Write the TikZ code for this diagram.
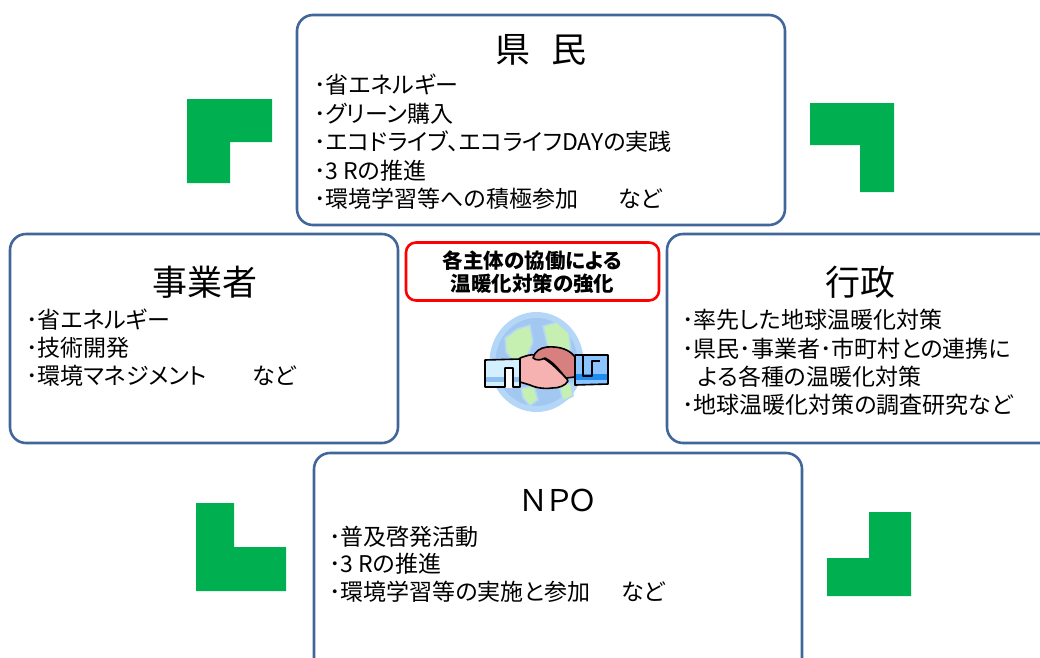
\documentclass[tikz,border=0pt]{standalone}
\usepackage{fontspec}
\setmainfont{Noto Sans CJK JP}[RawFeature=+palt]
\definecolor{panelblue}{HTML}{41679A}
\definecolor{cornergreen}{HTML}{00B050}
\definecolor{ocean}{HTML}{B4D6F7}
\definecolor{oceanin}{HTML}{A2C8F2}
\definecolor{land}{HTML}{C6EFB2}
\definecolor{cuffL}{HTML}{D2F0FF}
\definecolor{cuffLband}{HTML}{8FC0F0}
\definecolor{cuffR}{HTML}{8CC4FF}
\definecolor{cuffRband}{HTML}{1E8CF0}
\definecolor{handL}{HTML}{F6B2B0}
\definecolor{handR}{HTML}{D88080}
\tikzset{
  panel/.style={draw=panelblue, line width=2.6pt, rounded corners=16pt, fill=white, inner sep=0pt},
  corner/.style={fill=cornergreen, draw=none},
  title/.style={inner sep=0pt, font=\fontsize{35}{40}\selectfont},
  item/.style={inner sep=0pt, anchor=west, font=\fontsize{23}{28}\selectfont},
  keybox/.style={draw=red, line width=2.6pt, rounded corners=10pt, fill=white, inner sep=0pt},
  keytext/.style={inner sep=0pt, align=center, font=\fontsize{20.5}{23.5}\selectfont\bfseries},
  outl/.style={draw=black, line width=1.6pt, line join=round}
}
\begin{document}
\begin{tikzpicture}[x=1pt,y=-1pt]
\clip (0,0) rectangle (1040,657);
\fill[white] (0,0) rectangle (1040,657);

% green corner marks
\fill[corner] (187,99) -- (272,99) -- (272,142) -- (230,142) -- (230,183) -- (187,183) -- cycle;
\fill[corner] (810,103) -- (894,103) -- (894,192) -- (860,192) -- (860,145) -- (810,145) -- cycle;
\fill[corner] (196,503) -- (234,503) -- (234,547) -- (286,547) -- (286,591) -- (196,591) -- cycle;
\fill[corner] (869,512) -- (911,512) -- (911,596) -- (827,596) -- (827,558) -- (869,558) -- cycle;

% four panels
\node[panel, minimum width=488pt, minimum height=210pt] (kenmin) at (541,120) {};
\node[panel, minimum width=388pt, minimum height=209pt] (jigyo) at (204,338.5) {};
\node[panel, minimum width=400pt, minimum height=209pt] (gyosei) at (867,338.5) {};
\node[panel, minimum width=488pt, minimum height=230pt] (npo) at (558,568) {};

% citizens
\node[title] (kenmint) at (541,50) {県\hspace{22pt}民};
\node[item] (k1) at (314,85) {･省エネルギー};
\node[item] (k2) at (314,113.5) {･グリーン購入};
\node[item] (k3) at (314,142) {･エコドライブ、エコライフDAYの実践};
\node[item] (k4) at (314,170.5) {･3 Rの推進};
\node[item] (k5) at (314,199) {･環境学習等への積極参加\hspace{40pt}など};

% businesses
\node[title] (jigyot) at (205,282) {事業者};
\node[item] (j1) at (26,320) {･省エネルギー};
\node[item] (j2) at (26,348) {･技術開発};
\node[item] (j3) at (26,376) {･環境マネジメント\hspace{45pt}など};

% administration
\node[title] (gyoseit) at (860,282) {行政};
\node[item] (g1) at (682,320) {･率先した地球温暖化対策};
\node[item] (g2) at (682,348.5) {･県民･事業者･市町村との連携に};
\node[item] (g3) at (698,377) {よる各種の温暖化対策};
\node[item] (g4) at (682,405) {･地球温暖化対策の調査研究など};

% NPO
\node[title, font=\fontsize{30}{36}\selectfont] (npot) at (558,500) {ＮＰＯ};
\node[item] (n1) at (329,537) {･普及啓発活動};
\node[item] (n2) at (329,564) {･3 Rの推進};
\node[item] (n3) at (329,592) {･環境学習等の実施と参加\hspace{31pt}など};

% central message
\node[keybox, minimum width=253pt, minimum height=58pt] (key) at (532.5,271.5) {};
\node[keytext] (keyt) at (532.5,272) {各主体の協働による\\温暖化対策の強化};

% globe
\fill[ocean] (536.5,362) ellipse (47pt and 50pt);
\fill[oceanin] (536.5,362) ellipse (41pt and 44pt);
\fill[land, draw=ocean, line width=1.5pt] (505,338) -- (517,329) -- (530,325) -- (533,342) -- (528,355) -- (513,361) -- (506,352) -- cycle;
\fill[land, draw=ocean, line width=1.5pt] (543,326) -- (557,322) -- (569,333) -- (571,350) -- (560,356) -- (548,349) -- cycle;
\fill[land, draw=ocean, line width=1.5pt] (521,388) -- (534,386) -- (538,400) -- (530,406) -- (523,398) -- cycle;
\fill[land, draw=ocean, line width=1.5pt] (559,385) -- (571,383) -- (573,396) -- (563,401) -- cycle;

% handshake: cuffs
\fill[cuffL] (485,360) -- (520,359) -- (520,387) -- (485,387) -- cycle;
\fill[cuffLband] (485,377) rectangle (520,382);
\fill[white] (505,368) rectangle (513,388);
\draw[outl] (485,360) -- (520,359) -- (520,387) -- (513,387) -- (513,368) -- (505,368) -- (505,387) -- (485,387) -- cycle;
\fill[cuffR] (575,355) -- (608,355) -- (608,384) -- (575,385) -- cycle;
\fill[cuffRband] (575,374) -- (608,374) -- (608,380) -- (575,380) -- cycle;
\draw[outl] (575,355) -- (608,355) -- (608,384) -- (575,385) -- cycle;
\draw[outl] (583,355) -- (583,376) -- (592,376) -- (592,361) -- (600,361);
% handshake: hands
\filldraw[handL, draw=black, line width=1.6pt, line join=round]
  (520,358) .. controls (526,356) and (530,354) .. (536,355)
  .. controls (543,357) and (550,362) .. (557,369)
  .. controls (562,374) and (567,378) .. (568,381)
  .. controls (565,386) and (559,388) .. (552,388)
  .. controls (545,389) and (536,388) .. (530,385)
  -- (520,382) -- cycle;
\filldraw[handR, draw=black, line width=1.6pt, line join=round]
  (575,357) .. controls (570,350) and (560,346) .. (547,347)
  .. controls (540,348) and (535,351) .. (533,358)
  .. controls (537,361) and (541,360) .. (545,358)
  .. controls (551,361) and (556,366) .. (560,371)
  -- (566,378) -- (575,377) -- cycle;
\end{tikzpicture}
\end{document}
